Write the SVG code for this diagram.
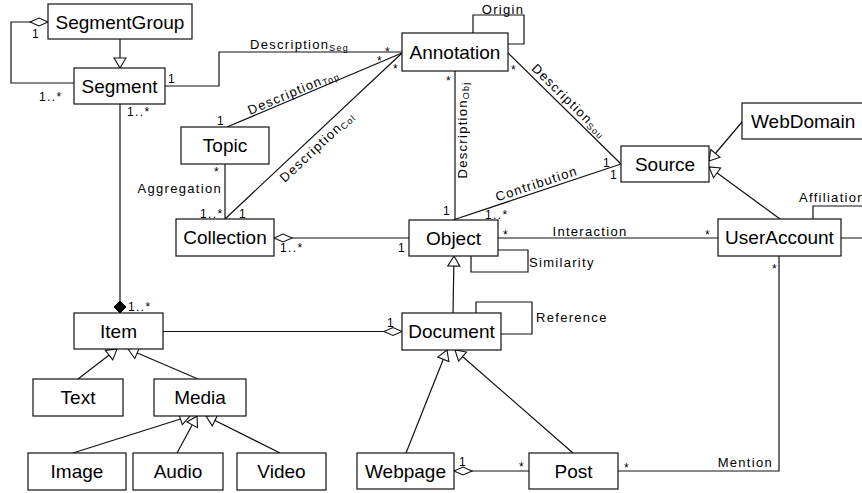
<svg xmlns="http://www.w3.org/2000/svg" width="862" height="493" viewBox="0 0 862 493">
<style>
.n rect{fill:#fff;stroke:#111;stroke-width:1.2}
.n text{font-family:"Liberation Sans",Arial,sans-serif;font-size:19px;text-anchor:middle;fill:#000}
.c path{fill:none;stroke:#111;stroke-width:1.2}
.l{font-family:"Liberation Sans",Arial,sans-serif;font-size:13px;letter-spacing:1.3px;fill:#000}
.m{font-family:"Liberation Sans",Arial,sans-serif;font-size:12px;letter-spacing:1.4px;fill:#000}
.s{font-size:9px;letter-spacing:1.2px}
.mid{text-anchor:middle}
.end{text-anchor:end}
</style>
<defs>
<marker id="tri" markerWidth="12" markerHeight="12" refX="10" refY="6" orient="auto" markerUnits="userSpaceOnUse" overflow="visible"><path d="M0,0 L10,6 L0,12 z" fill="#fff" stroke="#111" stroke-width="1.1"/></marker>
<marker id="dia" markerWidth="18" markerHeight="8" refX="18" refY="4" orient="auto" markerUnits="userSpaceOnUse" overflow="visible"><path d="M0,4 L9,0 L18,4 L9,8 z" fill="#fff" stroke="#111" stroke-width="1.1"/></marker>
<marker id="fdia" markerWidth="12" markerHeight="12" refX="12" refY="6" orient="auto" markerUnits="userSpaceOnUse" overflow="visible"><path d="M0,6 L6,0 L12,6 L6,12 z" fill="#000" stroke="#000" stroke-width="1"/></marker>
</defs>
<rect width="862" height="493" fill="#fff"/>
<g id="connectors" class="c">
<path d="M120,39 L120,68" marker-end="url(#tri)"/>
<path d="M74,83 L11,83 L11,22 L48,22" marker-end="url(#dia)"/>
<path d="M165,86 L219,86 L219,52 L402,52"/>
<path d="M227,127 L402,53"/>
<path d="M225,219 L402,53"/>
<path d="M225,164 L225,219"/>
<path d="M409,238 L274,238" marker-end="url(#dia)"/>
<path d="M455,71 L455,220"/>
<path d="M508,53 L621,164"/>
<path d="M453,220 L621,164"/>
<path d="M473,33 L473,15 L524,15 L524,44 L508,44"/>
<path d="M742,122 L709,161" marker-end="url(#tri)"/>
<path d="M780,219 L709,167" marker-end="url(#tri)"/>
<path d="M498,238 L718,238"/>
<path d="M471,256 L471,272 L528,272 L528,250 L498,250"/>
<path d="M813,219 L813,206 L880,206 L880,238 L841,238"/>
<path d="M453,313 L454,256" marker-end="url(#tri)"/>
<path d="M476,313 L476,302 L532,302 L532,334 L501,334"/>
<path d="M163,331.5 L402,331.5" marker-end="url(#dia)"/>
<path d="M120,104 L120,313" marker-end="url(#fdia)"/>
<path d="M78,379 L117,349" marker-end="url(#tri)"/>
<path d="M198,379 L128,349" marker-end="url(#tri)"/>
<path d="M73,453 L190,416" marker-end="url(#tri)"/>
<path d="M177,453 L197,416" marker-end="url(#tri)"/>
<path d="M280,453 L206,416" marker-end="url(#tri)"/>
<path d="M406,453 L447,350" marker-end="url(#tri)"/>
<path d="M573,453 L455,350" marker-end="url(#tri)"/>
<path d="M529,471 L454,471" marker-end="url(#dia)"/>
<path d="M618,471 L779,471 L779,256"/>
</g>
<g id="labels">
<text class="l mid" x="503" y="14">Origin</text>
<text class="l" x="250" y="49">Description<tspan class="s" dy="2">Seg</tspan></text>
<text class="l mid" transform="translate(295,96) rotate(-22.9)">Description<tspan class="s" dy="2">Top</tspan></text>
<text class="l mid" transform="translate(320,150) rotate(-43.2)">Description<tspan class="s" dy="2">Col</tspan></text>
<text class="l mid" transform="translate(467,130) rotate(-90)">Description<tspan class="s" dy="2">Obj</tspan></text>
<text class="l mid" transform="translate(566,104) rotate(44.6)">Description<tspan class="s" dy="2">Sou</tspan></text>
<text class="l mid" transform="translate(538,188) rotate(-18.4)">Contribution</text>
<text class="l end" x="222" y="193">Aggregation</text>
<text class="l mid" x="590" y="236">Interaction</text>
<text class="l" x="529" y="266.5">Similarity</text>
<text class="l" x="536" y="322">Reference</text>
<text class="l end" x="773" y="467">Mention</text>
<text class="l" x="799" y="201.5">Affiliation</text>
<text class="m" x="32" y="38">1</text>
<text class="m" x="39" y="101">1..*</text>
<text class="m" x="168" y="83">1</text>
<text class="m" x="127" y="116">1..*</text>
<text class="m" x="385" y="55.5">*</text>
<text class="m" x="377" y="65">*</text>
<text class="m" x="393" y="72.5">*</text>
<text class="m" x="217" y="125">1</text>
<text class="m" x="214" y="175.5">*</text>
<text class="m" x="200" y="218">1..*</text>
<text class="m" x="239" y="218">1</text>
<text class="m" x="280" y="252">1..*</text>
<text class="m" x="398" y="252">1</text>
<text class="m" x="446" y="85">*</text>
<text class="m" x="443" y="215">1</text>
<text class="m" x="511" y="74">*</text>
<text class="m" x="603" y="167">1</text>
<text class="m" x="610" y="179">1</text>
<text class="m" x="485" y="219">1..*</text>
<text class="m" x="503" y="239">*</text>
<text class="m" x="705" y="239">*</text>
<text class="m" x="772" y="272.5">*</text>
<text class="m" x="387" y="327">1</text>
<text class="m" x="128" y="311">1..*</text>
<text class="m" x="459" y="465.5">1</text>
<text class="m" x="519" y="471">*</text>
<text class="m" x="624" y="472">*</text>
</g>
<g id="SegmentGroup" class="n"><rect x="48" y="4" width="144" height="35"/><text x="120" y="28.7">SegmentGroup</text></g>
<g id="Segment" class="n"><rect x="74" y="68" width="91" height="36"/><text x="119.5" y="92.7">Segment</text></g>
<g id="Annotation" class="n"><rect x="402" y="33" width="106" height="38"/><text x="455" y="58.7">Annotation</text></g>
<g id="Topic" class="n"><rect x="181" y="127" width="88" height="37"/><text x="225" y="152.2">Topic</text></g>
<g id="Collection" class="n"><rect x="176" y="219" width="98" height="37"/><text x="225" y="244.2">Collection</text></g>
<g id="Object" class="n"><rect x="409" y="220" width="89" height="36"/><text x="453.5" y="244.7">Object</text></g>
<g id="Source" class="n"><rect x="621" y="146" width="88" height="36"/><text x="665" y="170.7">Source</text></g>
<g id="WebDomain" class="n"><rect x="742" y="103" width="130" height="36"/><text x="751" y="127.7" style="text-anchor:start">WebDomain</text></g>
<g id="UserAccount" class="n"><rect x="718" y="219" width="123" height="37"/><text x="779.5" y="244.2">UserAccount</text></g>
<g id="Item" class="n"><rect x="74" y="313" width="89" height="36"/><text x="118.5" y="337.7">Item</text></g>
<g id="Document" class="n"><rect x="402" y="313" width="99" height="37"/><text x="451.5" y="338.2">Document</text></g>
<g id="Text" class="n"><rect x="33" y="379" width="90" height="37"/><text x="78" y="404.2">Text</text></g>
<g id="Media" class="n"><rect x="154" y="379" width="92" height="37"/><text x="200" y="404.2">Media</text></g>
<g id="Image" class="n"><rect x="28" y="453" width="98" height="37"/><text x="77" y="478.2">Image</text></g>
<g id="Audio" class="n"><rect x="133" y="453" width="90" height="37"/><text x="178" y="478.2">Audio</text></g>
<g id="Video" class="n"><rect x="237" y="453" width="89" height="37"/><text x="281.5" y="478.2">Video</text></g>
<g id="Webpage" class="n"><rect x="357" y="453" width="97" height="36"/><text x="405.5" y="477.7">Webpage</text></g>
<g id="Post" class="n"><rect x="529" y="453" width="89" height="36"/><text x="573.5" y="477.7">Post</text></g>
</svg>
